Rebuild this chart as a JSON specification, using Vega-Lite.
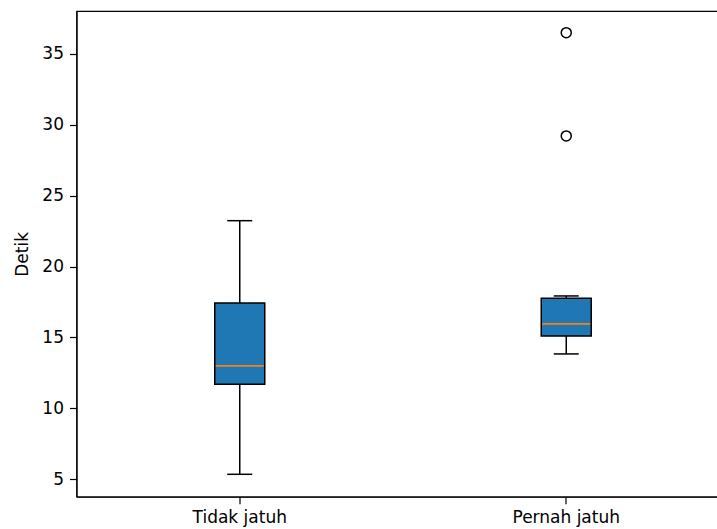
{
  "$schema": "https://vega.github.io/schema/vega-lite/v6.json",
  "autosize": {"type": "none"},
  "padding": {"left": 76.5, "top": 11, "right": 0, "bottom": 32.3},
  "width": 653,
  "height": 485.7,
  "background": "white",
  "config": {
    "font": "DejaVu Sans",
    "view": {"stroke": "black", "strokeWidth": 1.2},
    "axis": {
      "labelFont": "DejaVu Sans",
      "titleFont": "DejaVu Sans",
      "labelFontSize": 17,
      "titleFontSize": 17,
      "titleFontWeight": "normal",
      "labelColor": "black",
      "titleColor": "black",
      "tickColor": "black",
      "domainColor": "black",
      "domainWidth": 1.2,
      "tickWidth": 1.2,
      "grid": false,
      "tickSize": 7
    }
  },
  "datasets": {
    "boxes": [
      {"group": "Tidak jatuh", "low": 5.35, "q1": 11.7, "median": 13.0, "q3": 17.44, "high": 23.24},
      {"group": "Pernah jatuh", "low": 13.84, "q1": 15.11, "median": 15.96, "q3": 17.77, "high": 17.93}
    ],
    "outliers": [
      {"group": "Pernah jatuh", "value": 36.5},
      {"group": "Pernah jatuh", "value": 29.22}
    ]
  },
  "layer": [
    {
      "data": {"name": "boxes"},
      "mark": {"type": "rule", "color": "black", "strokeWidth": 1.5},
      "encoding": {
        "x": {"field": "group", "type": "nominal", "sort": ["Tidak jatuh", "Pernah jatuh"],
              "scale": {"type": "band", "paddingInner": 0, "paddingOuter": 0},
              "axis": {"title": null, "labelAngle": 0, "labelPadding": 6}},
        "y": {"field": "low", "type": "quantitative",
              "scale": {"domain": [3.77, 38.03], "nice": false, "zero": false},
              "axis": {"title": "Detik", "values": [5, 10, 15, 20, 25, 30, 35], "labelPadding": 6, "titlePadding": 10}},
        "y2": {"field": "high"}
      }
    },
    {
      "data": {"name": "boxes"},
      "mark": {"type": "tick", "color": "black", "size": 25, "thickness": 1.5, "opacity": 1},
      "encoding": {
        "x": {"field": "group", "type": "nominal", "sort": ["Tidak jatuh", "Pernah jatuh"]},
        "y": {"field": "low", "type": "quantitative"}
      }
    },
    {
      "data": {"name": "boxes"},
      "mark": {"type": "tick", "color": "black", "size": 25, "thickness": 1.5, "opacity": 1},
      "encoding": {
        "x": {"field": "group", "type": "nominal", "sort": ["Tidak jatuh", "Pernah jatuh"]},
        "y": {"field": "high", "type": "quantitative"}
      }
    },
    {
      "data": {"name": "boxes"},
      "mark": {"type": "bar", "fill": "#1f77b4", "stroke": "black", "strokeWidth": 1.5, "size": 50, "opacity": 1},
      "encoding": {
        "x": {"field": "group", "type": "nominal", "sort": ["Tidak jatuh", "Pernah jatuh"]},
        "y": {"field": "q1", "type": "quantitative"},
        "y2": {"field": "q3"}
      }
    },
    {
      "data": {"name": "boxes"},
      "mark": {"type": "tick", "color": "#ff7f0e", "size": 48, "thickness": 1.6, "opacity": 1},
      "encoding": {
        "x": {"field": "group", "type": "nominal", "sort": ["Tidak jatuh", "Pernah jatuh"]},
        "y": {"field": "median", "type": "quantitative"}
      }
    },
    {
      "data": {"name": "outliers"},
      "mark": {"type": "point", "filled": false, "stroke": "black", "strokeWidth": 1.5, "size": 100, "opacity": 1},
      "encoding": {
        "x": {"field": "group", "type": "nominal", "sort": ["Tidak jatuh", "Pernah jatuh"]},
        "y": {"field": "value", "type": "quantitative"}
      }
    }
  ]
}
